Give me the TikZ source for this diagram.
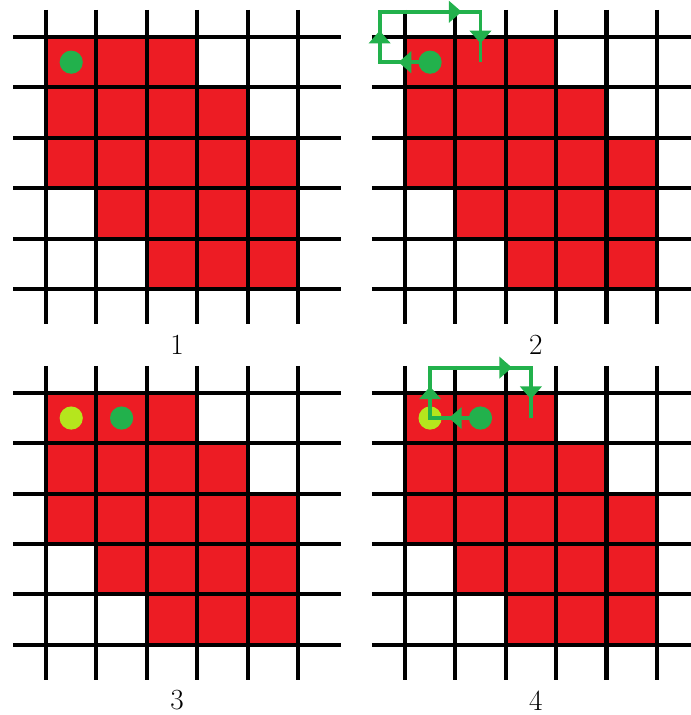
\documentclass[tikz,border=0pt]{standalone}
\usepackage{xcolor}
\usepackage{tikz}
\usetikzlibrary{arrows.meta,decorations.markings}
\definecolor{paintred}{RGB}{237,28,36}
\definecolor{paintgreen}{RGB}{34,177,76}
\definecolor{paintlime}{RGB}{181,230,29}
\tikzset{
  gridline/.style={line width=2.3pt, black},
  cellfill/.style={fill=paintred},
  dot/.style={circle, fill=#1, inner sep=0pt, minimum size=0.46cm},
  steplabel/.style={font=\fontsize{16.5}{20}\selectfont, inner sep=0pt},
  walktip/.style={xshift=3.6pt},
  walk/.style={line width=2.2pt, paintgreen,
    decoration={markings,
      mark=at position 0.5cm with {\arrow[walktip]{Triangle[length=7.2pt,width=12pt]}},
      mark=at position 1.5cm with {\arrow[walktip]{Triangle[length=7.2pt,width=12pt]}},
      mark=at position 3.5cm with {\arrow[walktip]{Triangle[length=7.2pt,width=12pt]}},
      mark=at position 4.5cm with {\arrow[walktip]{Triangle[length=7.2pt,width=12pt]}}},
    postaction={decorate}},
}

\begin{document}
\begin{tikzpicture}
    \useasboundingbox (-0.913,0.734) rectangle (12.777,-13.452);

    % the four panels: red region, grid, caption
    \foreach \px/\py/\num in {0/0/1, 7.12/0/2, 0/-7.06/3, 7.12/-7.06/4}{
      \begin{scope}[shift={(\px,\py)}]
        \foreach \r/\a/\b in {0/0/2, 1/0/3, 2/0/4, 3/1/4, 4/2/4}
          \fill[cellfill] (\a,-\r) rectangle (\b+1,-\r-1);
        \foreach \i in {0,...,5}{
          \draw[gridline] (-0.655,-\i) -- (5.85,-\i);
          \draw[gridline] (\i,0.536) -- (\i,-5.69);
        }
        \node[steplabel] (caption\num) at (2.6,-6.1) {\num};
      \end{scope}
    }

    % panel 1
    \node[dot=paintgreen] (start1) at (0.5,-0.5) {};

    % panel 2
    \begin{scope}[shift={(7.12,0)}]
      \draw[walk] (0.5,-0.5) -- ++(-1,0) -- ++(0,1) -- ++(2,0) -- ++(0,-1) coordinate (end2);
      \node[dot=paintgreen] (start2) at (0.5,-0.5) {};
    \end{scope}

    % panel 3
    \begin{scope}[shift={(0,-7.06)}]
      \node[dot=paintlime] (old3) at (0.5,-0.5) {};
      \node[dot=paintgreen] (start3) at (1.5,-0.5) {};
    \end{scope}

    % panel 4
    \begin{scope}[shift={(7.12,-7.06)}]
      \node[dot=paintlime] (old4) at (0.5,-0.5) {};
      \draw[walk] (1.5,-0.5) -- ++(-1,0) -- ++(0,1) -- ++(2,0) -- ++(0,-1) coordinate (end4);
      \node[dot=paintgreen] (start4) at (1.5,-0.5) {};
    \end{scope}
\end{tikzpicture}
\end{document}
